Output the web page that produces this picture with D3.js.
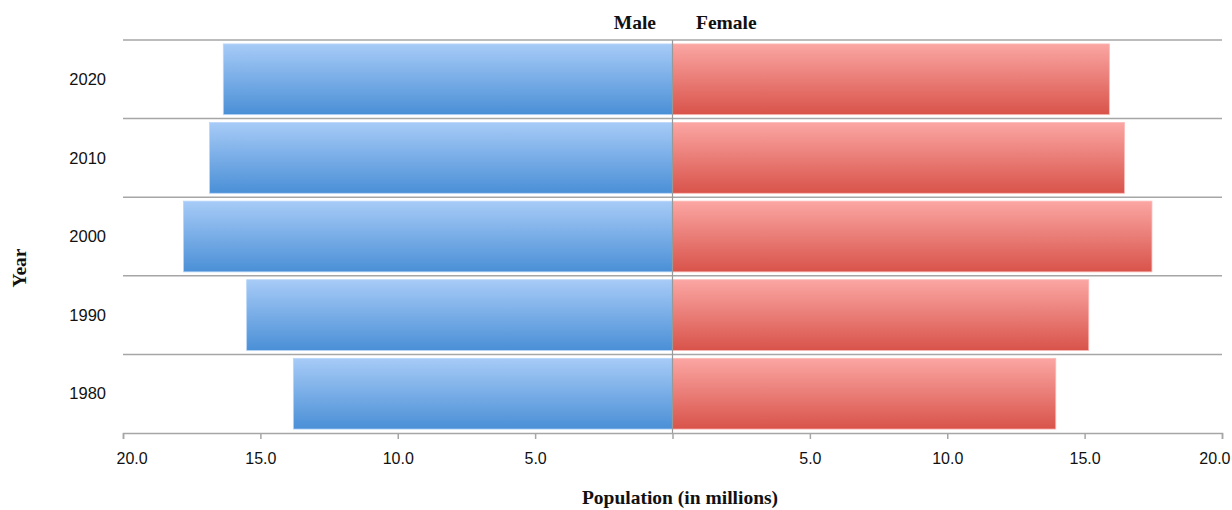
<!DOCTYPE html>
<html>
<head>
<meta charset="utf-8">
<script src="https://cdn.jsdelivr.net/npm/d3@7"></script>
<style>
  body { margin: 0; background: #fff; }
  .tick text { font-family: "Liberation Sans", Arial, sans-serif; }
</style>
</head>
<body>
<div id="chart"></div>
<script>
// data (millions)
const years = ["2020", "2010", "2000", "1990", "1980"];
const male = [16.35, 16.85, 17.8, 15.5, 13.8];
const female = [15.9, 16.45, 17.45, 15.15, 13.95];
const tickValues = [-20, -15, -10, -5, 0, 5, 10, 15, 20];

let width = 1232, height = 510,
    margin = ({ top: 40, right: 10, bottom: 77, left: 123 });

const svg = d3.select("#chart")
  .append("svg")
  .attr("width", width)
  .attr("height", height);

// gradients for the bars
const defs = svg.append("defs");
function grad(id, top, bottom) {
  const g = defs.append("linearGradient").attr("id", id)
    .attr("x1", 0).attr("y1", 0).attr("x2", 0).attr("y2", 1);
  g.append("stop").attr("offset", "0%").attr("stop-color", top);
  g.append("stop").attr("offset", "100%").attr("stop-color", bottom);
}
grad("maleGrad", "#a7cbf7", "#4a8fd6");
grad("femaleGrad", "#fba6a3", "#d8534a");

let x = d3.scaleLinear()
  .domain([-20, 20])
  .range([margin.left, 1222]);

let y = d3.scaleBand()
  .domain(years)
  .range([margin.top, 433])
  .paddingInner(0.1)
  .paddingOuter(0.05);

// horizontal separator lines between rows
const step = y.step();
const lines = d3.range(years.length).map(i => margin.top + i * step);
svg.append("g")
  .selectAll("line")
  .data(lines)
  .join("line")
  .attr("x1", x(-20)).attr("x2", x(20))
  .attr("y1", d => d).attr("y2", d => d)
  .attr("stroke", "#a6a6a6")
  .attr("stroke-width", 1.5);

// bars
const rows = years.map((yr, i) => ({ year: yr, m: male[i], f: female[i] }));

svg.append("g")
  .selectAll("rect")
  .data(rows)
  .join("rect")
  .attr("x", d => x(-d.m))
  .attr("y", d => y(d.year))
  .attr("width", d => x(0) - x(-d.m))
  .attr("height", y.bandwidth())
  .attr("fill", "url(#maleGrad)")
  .attr("stroke", "#b9d6f8")
  .attr("stroke-width", 0.8);

svg.append("g")
  .selectAll("rect")
  .data(rows)
  .join("rect")
  .attr("x", x(0))
  .attr("y", d => y(d.year))
  .attr("width", d => x(d.f) - x(0))
  .attr("height", y.bandwidth())
  .attr("fill", "url(#femaleGrad)")
  .attr("stroke", "#fbb9b6")
  .attr("stroke-width", 0.8);

// centre line
svg.append("line")
  .attr("x1", x(0)).attr("x2", x(0))
  .attr("y1", margin.top).attr("y2", 433)
  .attr("stroke", "#999")
  .attr("stroke-width", 1.2);

// x axis
const xAxis = svg.append("g")
  .attr("transform", `translate(0,433)`)
  .call(d3.axisBottom(x)
    .tickValues(tickValues)
    .tickSize(6)
    .tickPadding(14)
    .tickFormat(d => d === 0 ? "" : Math.abs(d).toFixed(1)));
xAxis.select(".domain").attr("stroke", "#a6a6a6").attr("stroke-width", 1.5);
xAxis.selectAll(".tick line").attr("stroke", "#a6a6a6").attr("stroke-width", 1.5);
xAxis.selectAll(".tick text").attr("font-size", 16).attr("fill", "#111");
// end labels sit inside the axis ends
xAxis.selectAll(".tick text")
  .filter(d => d === -20).attr("text-anchor", "start").attr("dx", -7);
xAxis.selectAll(".tick text")
  .filter(d => d === 20).attr("text-anchor", "end").attr("dx", 8);

// year labels
svg.append("g")
  .selectAll("text")
  .data(years)
  .join("text")
  .attr("x", 106)
  .attr("y", d => y(d) + y.bandwidth() / 2)
  .attr("dy", "0.35em")
  .attr("text-anchor", "end")
  .attr("font-family", "Liberation Sans, Arial, sans-serif")
  .attr("font-size", 16.5)
  .attr("fill", "#111")
  .text(d => d);

// titles
const titleFont = "Liberation Serif, Times New Roman, serif";
const titleSize = 19.5;
svg.append("text")
  .attr("x", 656).attr("y", 29)
  .attr("text-anchor", "end")
  .attr("font-family", titleFont).attr("font-weight", "bold").attr("font-size", titleSize)
  .attr("fill", "#111")
  .text("Male");

svg.append("text")
  .attr("x", 696).attr("y", 29)
  .attr("text-anchor", "start")
  .attr("font-family", titleFont).attr("font-weight", "bold").attr("font-size", titleSize)
  .attr("fill", "#111")
  .text("Female");

svg.append("text")
  .attr("x", 680).attr("y", 504)
  .attr("text-anchor", "middle")
  .attr("font-family", titleFont).attr("font-weight", "bold").attr("font-size", titleSize)
  .attr("fill", "#111")
  .text("Population (in millions)");

svg.append("text")
  .attr("transform", "translate(26,268) rotate(-90)")
  .attr("text-anchor", "middle")
  .attr("font-family", titleFont).attr("font-weight", "bold").attr("font-size", titleSize)
  .attr("fill", "#111")
  .text("Year");
</script>
</body>
</html>
